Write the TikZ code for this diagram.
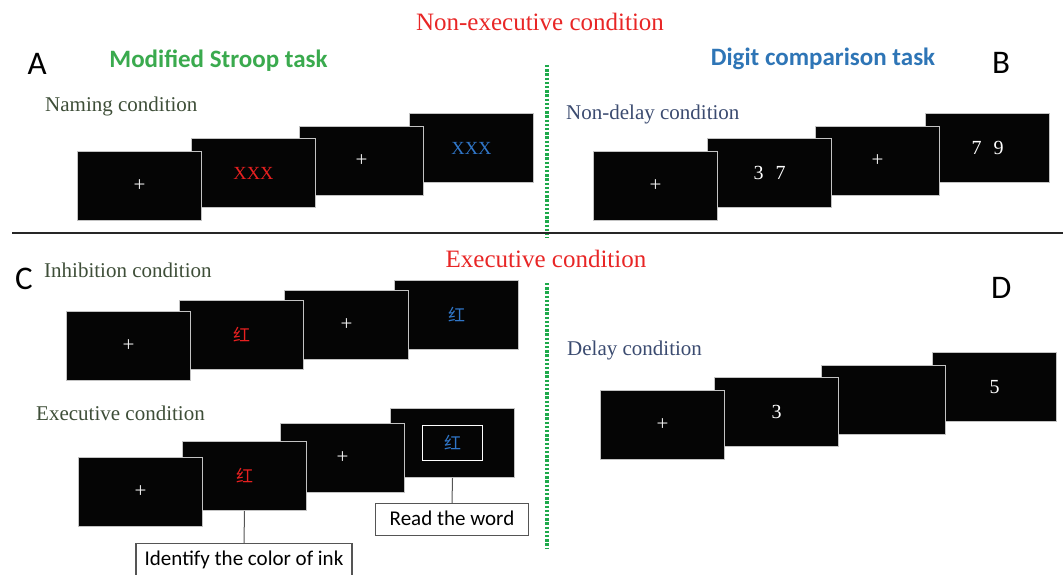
\documentclass[tikz,border=0pt]{standalone}
\usepackage{fontspec}
\setmainfont{Liberation Serif}
\newfontfamily\calibri{Carlito}
\newfontfamily\cjk{Noto Sans CJK SC}
\definecolor{scrfill}{RGB}{5,5,5}
\definecolor{scrborder}{RGB}{195,195,195}
\definecolor{titlered}{RGB}{232,38,38}
\definecolor{stroopgreen}{RGB}{58,170,78}
\definecolor{digitblue}{RGB}{46,117,182}
\definecolor{olivelbl}{RGB}{62,78,56}
\definecolor{slatelbl}{RGB}{59,75,112}
\definecolor{inkred}{RGB}{232,32,32}
\definecolor{inkblue}{RGB}{48,118,200}
\definecolor{dotgreen}{RGB}{30,170,75}
\definecolor{boxgray}{RGB}{85,85,85}
\begin{document}
\begin{tikzpicture}[x=1pt,y=-1pt,
  screen/.style={draw=scrborder, line width=1pt, fill=scrfill, minimum width=124pt,
    minimum height=69pt, inner sep=0pt, anchor=north west, text=white},
  plus/.style={font=\fontsize{21}{23}\selectfont, text=white!88!gray},
  digits/.style={font=\fontsize{20}{22}\selectfont, text=white},
  xxx/.style={font=\fontsize{18.5}{20}\selectfont},
  hanzi/.style={font=\cjk\fontsize{17}{19}\selectfont},
  lbl/.style={anchor=base west, inner sep=0pt, font=\fontsize{21}{24}\selectfont},
  title/.style={anchor=base, inner sep=0pt, font=\fontsize{25}{28}\selectfont, text=titlered},
  heading/.style={anchor=base, inner sep=0pt, font=\calibri\bfseries\fontsize{25}{28}\selectfont},
  letter/.style={anchor=base west, inner sep=0pt, font=\calibri\fontsize{33}{35}\selectfont},
  notebox/.style={draw=boxgray, line width=1.2pt, fill=white, inner xsep=0pt, inner ysep=0pt,
    anchor=north, font=\calibri\fontsize{21}{24}\selectfont},
  conn/.style={draw=boxgray, line width=1pt},
  divider/.style={draw=dotgreen, line width=3.2pt, dash pattern=on 2.4pt off 1.8pt}
]
\useasboundingbox (0,0) rectangle (1063,575);
\clip (0,0) rectangle (1063,575);

% titles
\node[title] (t1) at (540,30.5) {Non-executive condition};
\node[title] (t2) at (546,267) {Executive condition};
\node[heading, text=stroopgreen] (h1) at (218.5,68) {Modified Stroop task};
\node[heading, text=digitblue] (h2) at (823,65.5) {Digit comparison task};
\node[letter] (lA) at (27.5,74.5) {A};
\node[letter] (lB) at (992,74) {B};
\node[letter] (lC) at (15,289) {C};
\node[letter] (lD) at (991,298) {D};

% dividers
\coordinate (d1) at (547,65);
\coordinate (d2) at (547,238);
\coordinate (d3) at (547,283);
\coordinate (d4) at (547,548);
\coordinate (hl) at (12,233);
\coordinate (hr) at (1063,233);
\draw[divider] (d1) -- (d2);
\draw[divider] (d3) -- (d4);
\draw[line width=2pt, black!85] (hl) -- (hr);

% condition labels
\node[lbl, text=olivelbl] (n1) at (45,111.7) {Naming condition};
\node[lbl, text=slatelbl] (n2) at (566,120) {Non-delay condition};
\node[lbl, text=olivelbl] (n3) at (44,277.5) {Inhibition condition};
\node[lbl, text=olivelbl] (n4) at (36,420.7) {Executive condition};
\node[lbl, text=slatelbl] (n5) at (567,355) {Delay condition};

% A: naming
\node[screen] (a4) at (409,113) {};
\node[xxx, text=inkblue] (a4t) at (a4.center) {XXX};
\node[screen] (a3) at (299,126) {};
\node[plus] (a3t) at (a3.center) {+};
\node[screen] (a2) at (191,138) {};
\node[xxx, text=inkred] (a2t) at (a2.center) {XXX};
\node[screen] (a1) at (77,151) {};
\node[plus] (a1t) at (a1.center) {+};

% B: non-delay
\node[screen] (b4) at (925,113) {};
\node[digits] (b4t) at (b4.center) {7\hspace{12pt}9};
\node[screen] (b3) at (815,126) {};
\node[plus] (b3t) at (b3.center) {+};
\node[screen] (b2) at (707,138) {};
\node[digits] (b2t) at (b2.center) {3\hspace{12pt}7};
\node[screen] (b1) at (593,151) {};
\node[plus] (b1t) at (b1.center) {+};

% C: inhibition
\node[screen] (c4) at (394,280) {};
\node[hanzi, text=inkblue] (c4t) at (c4.center) {红};
\node[screen] (c3) at (284,290) {};
\node[plus] (c3t) at (c3.center) {+};
\node[screen] (c2) at (179,300) {};
\node[hanzi, text=inkred] (c2t) at (c2.center) {红};
\node[screen] (c1) at (66,311) {};
\node[plus] (c1t) at (c1.center) {+};

% C: executive
\node[screen] (e4) at (390,408) {};
\node[draw=white, line width=1.6pt, minimum width=60pt, minimum height=35pt, inner sep=0pt,
  hanzi, text=inkblue] (e4t) at (e4.center) {红};
\node[screen] (e3) at (280,423) {};
\node[plus] (e3t) at (e3.center) {+};
\node[screen] (e2) at (182,441) {};
\node[hanzi, text=inkred] (e2t) at (e2.center) {红};
\node[screen] (e1) at (78,457) {};
\node[plus] (e1t) at (e1.center) {+};

% notes
\node[notebox, minimum width=216pt, text height=22pt, text depth=22pt] (idbox) at (244,543)
  {Identify the color of ink};
\node[notebox, minimum width=153pt, text height=22pt, text depth=10pt] (rdbox) at (452,503)
  {Read the word};
\draw[conn] (e2.south) -- (idbox.north);
\draw[conn] (e4.south) -- (rdbox.north);

% D: delay
\node[screen] (g4) at (932,352) {};
\node[digits] (g4t) at (g4.center) {5};
\node[screen] (g3) at (821,365) {};
\node[screen] (g2) at (714,377) {};
\node[digits] (g2t) at (g2.center) {3};
\node[screen] (g1) at (600,390) {};
\node[plus] (g1t) at (g1.center) {+};
\end{tikzpicture}
\end{document}
